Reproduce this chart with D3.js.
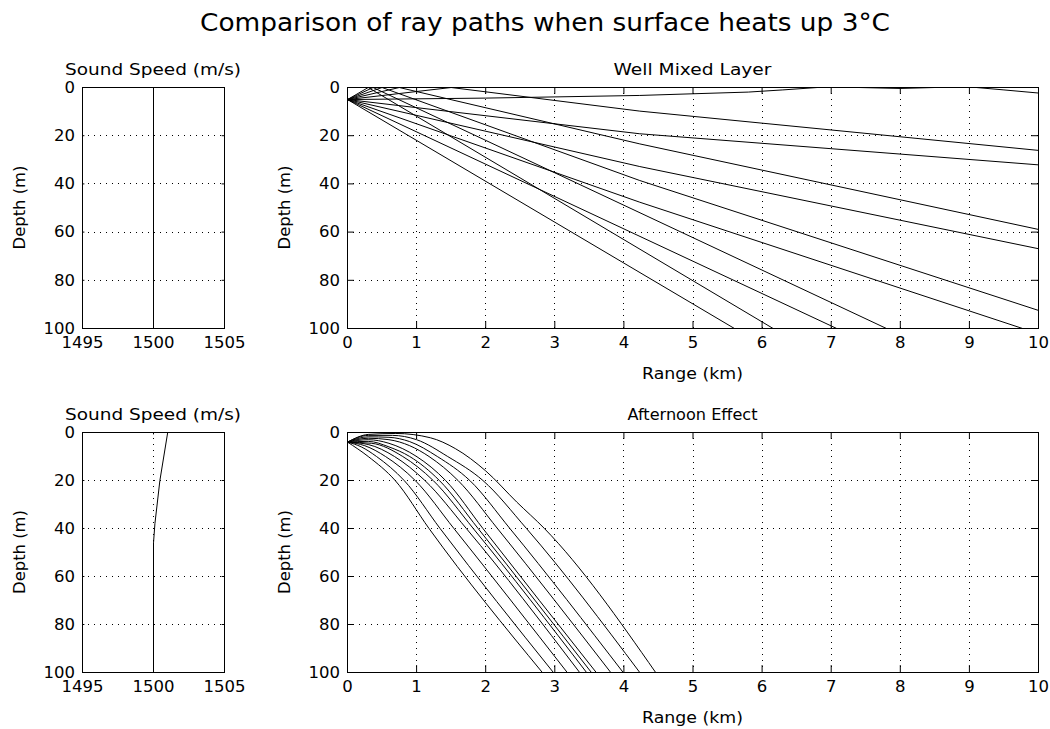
<!DOCTYPE html>
<html>
<head>
<meta charset="utf-8">
<script src="https://cdn.jsdelivr.net/npm/d3@7"></script>
<style>
  body { margin: 0; background: #fff; }
  text { font-family: "DejaVu Sans", sans-serif; fill: #000; }
</style>
</head>
<body>
<svg id="fig" width="1050" height="729"></svg>
<script>
// tick values
var speedTicks = [1495, 1500, 1505];
var depthTicks = [0, 20, 40, 60, 80, 100];
var rangeTicks = [0, 1, 2, 3, 4, 5, 6, 7, 8, 9, 10];

// sound speed profiles [speed m/s, depth m]
var mixedProfile = [[1500, 0], [1500, 100]];
var afternoonProfile = [[1501, 0], [1500.45, 20], [1500.1, 38], [1500, 46], [1500, 100]];

// ray paths, well mixed layer [range km, depth m]
var mixedRays = [
  [[0, 5], [5.6, 100]],
  [[0, 5], [0.3, 0], [6.16, 100]],
  [[0, 5], [7.08, 100]],
  [[0, 5], [0.37, 0], [7.8, 100]],
  [[0, 5], [4.23, 47.6], [9.77, 100]],
  [[0, 5], [0.5, 0], [4.23, 38.6], [10, 92.5]],
  [[0, 5], [4.23, 32.8], [10, 66.9]],
  [[0, 5], [0.75, 0], [4.23, 23.4], [10, 58.9]],
  [[0, 5], [4.23, 19.2], [10, 32.1]],
  [[0, 5], [1.5, 0], [4.23, 9.8], [10, 26.1]],
  [[0, 5], [2, 4.4], [4.23, 3.3], [5, 2.6], [5.8, 1.9], [6.3, 1], [6.8, 0], [7.4, 0],
   [8, 0.4], [8.5, 0], [9.1, 0], [9.5, 1], [10, 2.3]]
];

// ray paths, afternoon effect [range km, depth m]
var afternoonRays = [
  [[0, 4], [0.3, 10], [0.69, 20], [1.18, 40], [2.82, 100]],
  [[0, 4], [0.2, 6], [0.42, 10], [0.82, 20], [1.34, 40], [2.98, 100]],
  [[0, 4], [0.25, 5.5], [0.55, 10], [0.98, 20], [1.54, 40], [3.18, 100]],
  [[0, 4], [0.3, 5], [0.68, 10], [1.12, 20], [1.72, 40], [3.36, 100]],
  [[0, 4], [0.35, 4.5], [0.8, 10], [1.24, 20], [1.82, 40], [3.46, 100]],
  [[0, 4], [0.3, 3.7], [0.6, 6], [0.9, 10], [1.33, 20], [1.89, 40], [3.53, 100]],
  [[0, 4], [0.3, 3], [0.6, 4.5], [1.0, 10], [1.42, 20], [1.96, 40], [3.6, 100]],
  [[0, 4], [0.3, 2.4], [0.6, 3], [0.9, 5.5], [1.18, 10], [1.6, 20], [2.17, 40], [3.81, 100]],
  [[0, 4], [0.3, 1.8], [0.6, 2], [0.9, 3.8], [1.3, 10], [1.77, 20], [2.35, 40], [3.99, 100]],
  [[0, 4], [0.3, 1.2], [0.65, 1.2], [1.0, 3], [1.45, 10], [1.96, 20], [2.59, 40], [4.23, 100]],
  [[0, 4], [0.3, 0.8], [0.7, 0.4], [1.2, 2.2], [1.56, 6.7], [2.0, 16], [2.45, 29], [2.85, 40], [4.46, 100]]
];

var svg = d3.select("#fig");
var FONT = 16.5;

svg.append("text")
  .attr("x", 545).attr("y", 31)
  .attr("text-anchor", "middle")
  .attr("font-size", 24)
  .attr("textLength", 690).attr("lengthAdjust", "spacingAndGlyphs")
  .text("Comparison of ray paths when surface heats up 3\u00B0C");

var panels = [
  {left: 82, right: 224, top: 87, bottom: 328, dom: [1495, 1505], ticks: speedTicks, tl: 2.4,
   title: "Sound Speed (m/s)", titleW: 176, lines: [mixedProfile], curve: d3.curveLinear},
  {left: 347, right: 1038, top: 87, bottom: 328, dom: [0, 10], ticks: rangeTicks, tl: 6.9,
   title: "Well Mixed Layer", titleW: 158, xlabel: "Range (km)", lines: mixedRays, curve: d3.curveLinear},
  {left: 82, right: 224, top: 432, bottom: 672, dom: [1495, 1505], ticks: speedTicks, tl: 2.4,
   title: "Sound Speed (m/s)", titleW: 176, lines: [afternoonProfile], curve: d3.curveLinear},
  {left: 347, right: 1038, top: 432, bottom: 672, dom: [0, 10], ticks: rangeTicks, tl: 6.9,
   title: "Afternoon Effect", titleW: 130, xlabel: "Range (km)", lines: afternoonRays, curve: d3.curveMonotoneX}
];

panels.forEach(function (p, i) {
  var x = d3.scaleLinear().domain(p.dom).range([p.left, p.right]);
  var y = d3.scaleLinear().domain([0, 100]).range([p.top, p.bottom]);
  var g = svg.append("g");

  // dotted grid
  g.selectAll(".gx")
    .data(p.ticks.filter(function (d) { return d > p.dom[0] && d < p.dom[1]; }))
    .join("line")
    .attr("x1", function (d) { return Math.round(x(d)) + 0.5; })
    .attr("x2", function (d) { return Math.round(x(d)) + 0.5; })
    .attr("y1", p.top).attr("y2", p.bottom)
    .attr("stroke", "#000").attr("stroke-dasharray", "1,5");
  g.selectAll(".gy")
    .data(depthTicks.filter(function (d) { return d > 0 && d < 100; }))
    .join("line")
    .attr("y1", function (d) { return Math.round(y(d)) + 0.5; })
    .attr("y2", function (d) { return Math.round(y(d)) + 0.5; })
    .attr("x1", p.left).attr("x2", p.right)
    .attr("stroke", "#000").attr("stroke-dasharray", "1,5");

  // data
  g.append("clipPath").attr("id", "clip" + i)
    .append("rect").attr("x", p.left).attr("y", p.top)
    .attr("width", p.right - p.left + 1).attr("height", p.bottom - p.top + 1);
  var line = d3.line()
    .x(function (d) { return x(d[0]); })
    .y(function (d) { return y(d[1]); })
    .curve(p.curve);
  g.append("g").attr("clip-path", "url(#clip" + i + ")")
    .append("g").attr("transform", "translate(0.5,0.5)")
    .selectAll("path").data(p.lines).join("path")
    .attr("d", line)
    .attr("fill", "none").attr("stroke", "#000").attr("stroke-width", 1);

  // axes with inward ticks
  function style(a) {
    a.select(".domain").remove();
    a.attr("font-size", FONT).attr("font-family", "DejaVu Sans");
  }
  g.append("g").attr("transform", "translate(0," + p.bottom + ")")
    .call(d3.axisBottom(x).tickValues(p.ticks).tickFormat(d3.format("d"))
      .tickSizeInner(-p.tl).tickSizeOuter(0).tickPadding(8))
    .call(style);
  g.append("g").attr("transform", "translate(0," + p.top + ")")
    .call(d3.axisTop(x).tickValues(p.ticks).tickSizeInner(-p.tl).tickSizeOuter(0).tickFormat(""))
    .call(style);
  g.append("g").attr("transform", "translate(" + p.left + ",0)")
    .call(d3.axisLeft(y).tickValues(depthTicks).tickSizeInner(-p.tl).tickSizeOuter(0).tickPadding(7))
    .call(style);
  g.append("g").attr("transform", "translate(" + p.right + ",0)")
    .call(d3.axisRight(y).tickValues(depthTicks).tickSizeInner(-p.tl).tickSizeOuter(0).tickFormat(""))
    .call(style);

  // box
  g.append("rect")
    .attr("x", p.left + 0.5).attr("y", p.top + 0.5)
    .attr("width", p.right - p.left).attr("height", p.bottom - p.top)
    .attr("fill", "none").attr("stroke", "#000");

  // labels
  var cx = (p.left + p.right) / 2;
  g.append("text")
    .attr("x", cx).attr("y", p.top - 12)
    .attr("text-anchor", "middle").attr("font-size", 16.5)
    .attr("textLength", p.titleW).attr("lengthAdjust", "spacingAndGlyphs")
    .text(p.title);
  g.append("text")
    .attr("transform", "translate(" + (p.left - 57) + "," + ((p.top + p.bottom) / 2) + ") rotate(-90)")
    .attr("text-anchor", "middle").attr("font-size", 16.5)
    .attr("textLength", 84).attr("lengthAdjust", "spacingAndGlyphs")
    .text("Depth (m)");
  if (p.xlabel) {
    g.append("text")
      .attr("x", cx).attr("y", p.bottom + 51)
      .attr("text-anchor", "middle").attr("font-size", 16.5)
      .attr("textLength", 101).attr("lengthAdjust", "spacingAndGlyphs")
      .text(p.xlabel);
  }
});
</script>
</body>
</html>
